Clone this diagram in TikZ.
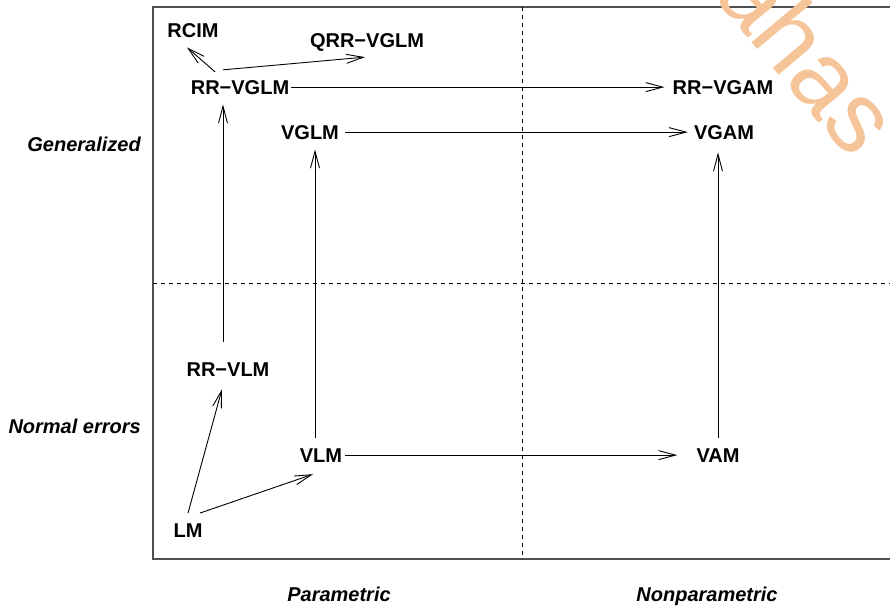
\documentclass[tikz,border=0pt]{standalone}
\usepackage{fontspec}
\setmainfont{Liberation Sans}
\usetikzlibrary{arrows.meta,calc}
\definecolor{wm}{RGB}{245,196,152}
\definecolor{frame}{RGB}{80,80,80}
\begin{document}
\begin{tikzpicture}[x=1pt,y=-1pt,
  lab/.style={font=\fontsize{20}{24}\selectfont\bfseries, inner sep=0pt, anchor=base},
  axlab/.style={font=\fontsize{20}{24}\selectfont\bfseries\itshape, inner sep=0pt},
  arr/.style={-{Straight Barb[length=17pt,width=9pt]}, line width=0.9pt},
  gridline/.style={dash pattern=on 4pt off 4pt, line width=0.8pt}]
\useasboundingbox (0,0) rectangle (890,605);
% frame and grid
\begin{scope}
\clip (0,0) rectangle (890,605);
\draw[draw=frame, line width=1.2pt] (153,7) rectangle (900,559);
\draw[gridline] (153,283) -- (890,283);
\draw[gridline] (522,7) -- (522,559);
\end{scope}
% model nodes
\node[lab] (rcim)   at (193,37)  {RCIM};
\node[lab] (qrr)    at (367,47)  {QRR−VGLM};
\node[lab] (rrvglm) at (240,94)  {RR−VGLM};
\node[lab] (rrvgam) at (723,94)  {RR−VGAM};
\node[lab] (vglm)   at (310,139) {VGLM};
\node[lab] (vgam)   at (724,139) {VGAM};
\node[lab] (rrvlm)  at (228,376) {RR−VLM};
\node[lab] (vlm)    at (321,462) {VLM};
\node[lab] (vam)    at (718,462) {VAM};
\node[lab] (lm)     at (188,537) {LM};
% axis labels
\node[axlab, anchor=base east] (gen)    at (141,151) {Generalized};
\node[axlab, anchor=base east] (norm)   at (141,433) {Normal errors};
\node[axlab, anchor=base]      (par)    at (339,601) {Parametric};
\node[axlab, anchor=base]      (nonpar) at (707,601) {Nonparametric};
% arrows
\draw[arr] ($(rrvglm.north)+(-25,-8)$) -- ($(rcim.south)+(-6,10)$);
\draw[arr] ($(rrvglm.north)+(-17,-10)$) -- ($(qrr.south)+(-2,6)$);
\draw[arr] ($(rrvglm.east)+(2,0)$) -- ($(rrvgam.west)+(-8,0)$);
\draw[arr] ($(vglm.east)+(6,0)$) -- ($(vgam.west)+(-6,0)$);
\draw[arr] ($(rrvlm.north)+(-5,-20)$) -- ($(rrvglm.south)+(-17,10)$);
\draw[arr] ($(vlm.north)+(-6,-10)$) -- ($(vglm.south)+(5,10)$);
\draw[arr] ($(vam.north)+(0,-10)$) -- ($(vgam.south)+(-6,13)$);
\draw[arr] ($(lm.north)+(0,-10)$) -- ($(rrvlm.south)+(-6,13)$);
\draw[arr] ($(lm.north)+(12,-10)$) -- ($(vlm.south)+(-8,12)$);
\draw[arr] ($(vlm.east)+(3,0)$) -- ($(vam.west)+(-19,0)$);
% watermark
\begin{scope}
\clip (0,0) rectangle (890,605);
\node[text=wm, rotate=-50, anchor=base west, font=\fontsize{100}{100}\selectfont, inner sep=0pt] (wmark) at (712,-5) {ahas};
\end{scope}
\end{tikzpicture}
\end{document}
